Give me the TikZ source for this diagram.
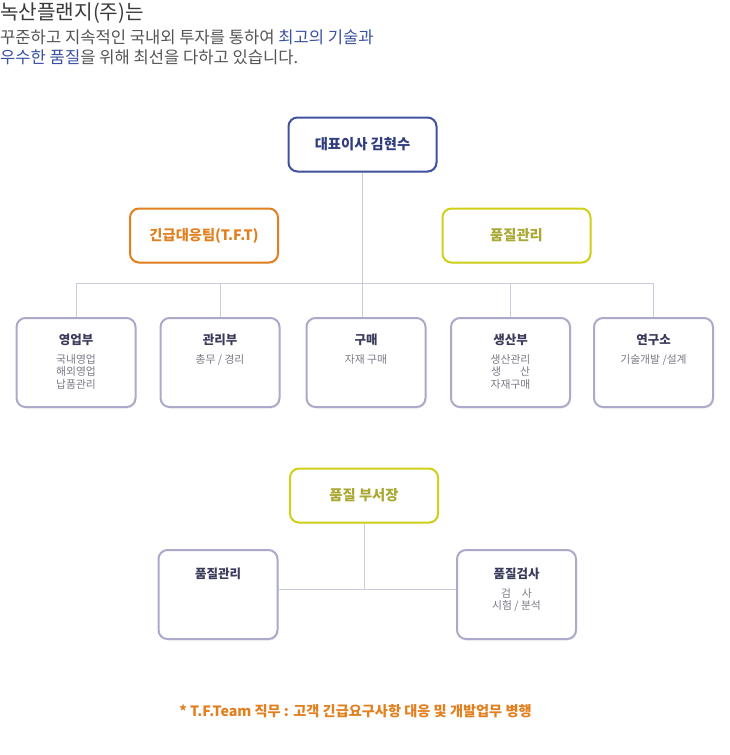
\documentclass[tikz,border=0pt]{standalone}
\usepackage{fontspec}
\setmainfont{Noto Sans CJK KR}
\usetikzlibrary{shadows}
\definecolor{ceoc}{HTML}{43529F}
\definecolor{ceot}{HTML}{2F3C7E}
\definecolor{orc}{HTML}{E2801F}
\definecolor{ylc}{HTML}{D0D01A}
\definecolor{ylt}{HTML}{A9A833}
\definecolor{lavc}{HTML}{ABAACB}
\definecolor{rtc}{HTML}{3B3B5C}
\definecolor{rsc}{HTML}{7A7A88}
\definecolor{linec}{HTML}{C9CBE0}
\definecolor{hdrc}{HTML}{555555}
\definecolor{hdrt}{HTML}{3A3A3A}
\definecolor{hblue}{HTML}{3A52A3}
\tikzset{
  basebox/.style={draw, rounded corners=9pt, line width=2pt, fill=white, inner sep=0pt,
    drop shadow={shadow xshift=1pt, shadow yshift=-1.5pt, opacity=0.12}},
  headbox/.style={basebox, minimum width=148pt, minimum height=54pt, font=\fontsize{14.3}{16}\selectfont\bfseries},
  ceobox/.style={headbox, draw=ceoc, text=ceot},
  tftbox/.style={headbox, draw=orc, text=orc},
  qbox/.style={headbox, draw=ylc, text=ylt},
  rbox/.style={basebox, draw=lavc, minimum width=119pt, minimum height=89pt},
  rtitle/.style={inner sep=0pt, text=rtc, font=\fontsize{12.5}{14}\selectfont\bfseries},
  rsub/.style={inner sep=0pt, anchor=north, align=center, text=rsc, font=\fontsize{10.8}{12.8}\selectfont},
  conn/.style={draw=linec, line width=1pt},
  hdr/.style={anchor=base west, inner sep=0pt, text=hdrc, font=\fontsize{16.6}{18}\selectfont},
  footer/.style={inner sep=0pt, text=orc, font=\fontsize{14.2}{16}\selectfont\bfseries}
}
\begin{document}
\begin{tikzpicture}[x=1pt,y=-1pt]
\useasboundingbox (0,0) rectangle (730,755);
\fill[white] (0,0) rectangle (730,755);

% header
\node[hdr, text=hdrt, font=\fontsize{20.2}{22}\selectfont] (h1) at (0,19.5) {녹산플랜지(주)는};
\node[hdr] (h2) at (0,43.5) {꾸준하고 지속적인 국내외 투자를 통하여 \textcolor{hblue}{최고의 기술과}};
\node[hdr] (h3) at (0,63.5) {\textcolor{hblue}{우수한 품질}을 위해 최선을 다하고 있습니다.};

% top level
\node[ceobox] (ceo) at (362.5,144.5) {대표이사 김현수};
\node[tftbox] (tft) at (204,235.5) {긴급대응팀(T.F.T)};
\node[qbox] (qm) at (516.5,235.5) {품질관리};
\coordinate (bus) at (0,283);

% departments
\node[rbox] (b1) at (76,362.5) {};
\node[rbox] (b2) at (220,362.5) {};
\node[rbox] (b3) at (366,362.5) {};
\node[rbox] (b4) at (510.5,362.5) {};
\node[rbox] (b5) at (653.5,362.5) {};

\draw[conn] (ceo.south) -- (ceo.south |- b3.north);
\draw[conn] (b1.north |- bus) -- (b5.north |- bus);
\foreach \b in {b1,b2,b4,b5} { \draw[conn] (\b.north) -- (\b.north |- bus); }

\node[rtitle] (t1) at ([yshift=-23pt]b1.north) {영업부};
\node[rsub] (s1) at ([yshift=-37pt]b1.north) {국내영업\\해외영업\\납품관리};
\node[rtitle] (t2) at ([yshift=-23pt]b2.north) {관리부};
\node[rsub] (s2) at ([yshift=-37pt]b2.north) {총무 / 경리};
\node[rtitle] (t3) at ([yshift=-23pt]b3.north) {구매};
\node[rsub] (s3) at ([yshift=-37pt]b3.north) {자재 구매};
\node[rtitle] (t4) at ([yshift=-23pt]b4.north) {생산부};
\node[rsub] (s4) at ([yshift=-37pt]b4.north) {생산관리\\\makebox[3.6em][s]{생\hfill 산}\\자재구매};
\node[rtitle] (t5) at ([yshift=-23pt]b5.north) {연구소};
\node[rsub] (s5) at ([yshift=-37pt]b5.north) {기술개발 /설계};

% quality section
\node[qbox] (qh) at (364,495.5) {품질 부서장};
\node[rbox] (ql) at (218,594.5) {};
\node[rbox] (qi) at (516.5,594.5) {};
\coordinate (mid) at (364,589);
\draw[conn] (qh.south) -- (mid);
\draw[conn] (ql.east |- mid) -- (qi.west |- mid);

\node[rtitle] (t6) at ([yshift=-25pt]ql.north) {품질관리};
\node[rtitle] (t7) at ([yshift=-25pt]qi.north) {품질검사};
\node[rsub] (s7) at ([yshift=-39pt]qi.north) {검\hspace{1em}사\\시험 / 분석};

% footer
\node[footer] (ft) at (355.5,711) {* T.F.Team 직무 : 고객 긴급요구사항 대응 및 개발업무 병행};
\end{tikzpicture}
\end{document}
